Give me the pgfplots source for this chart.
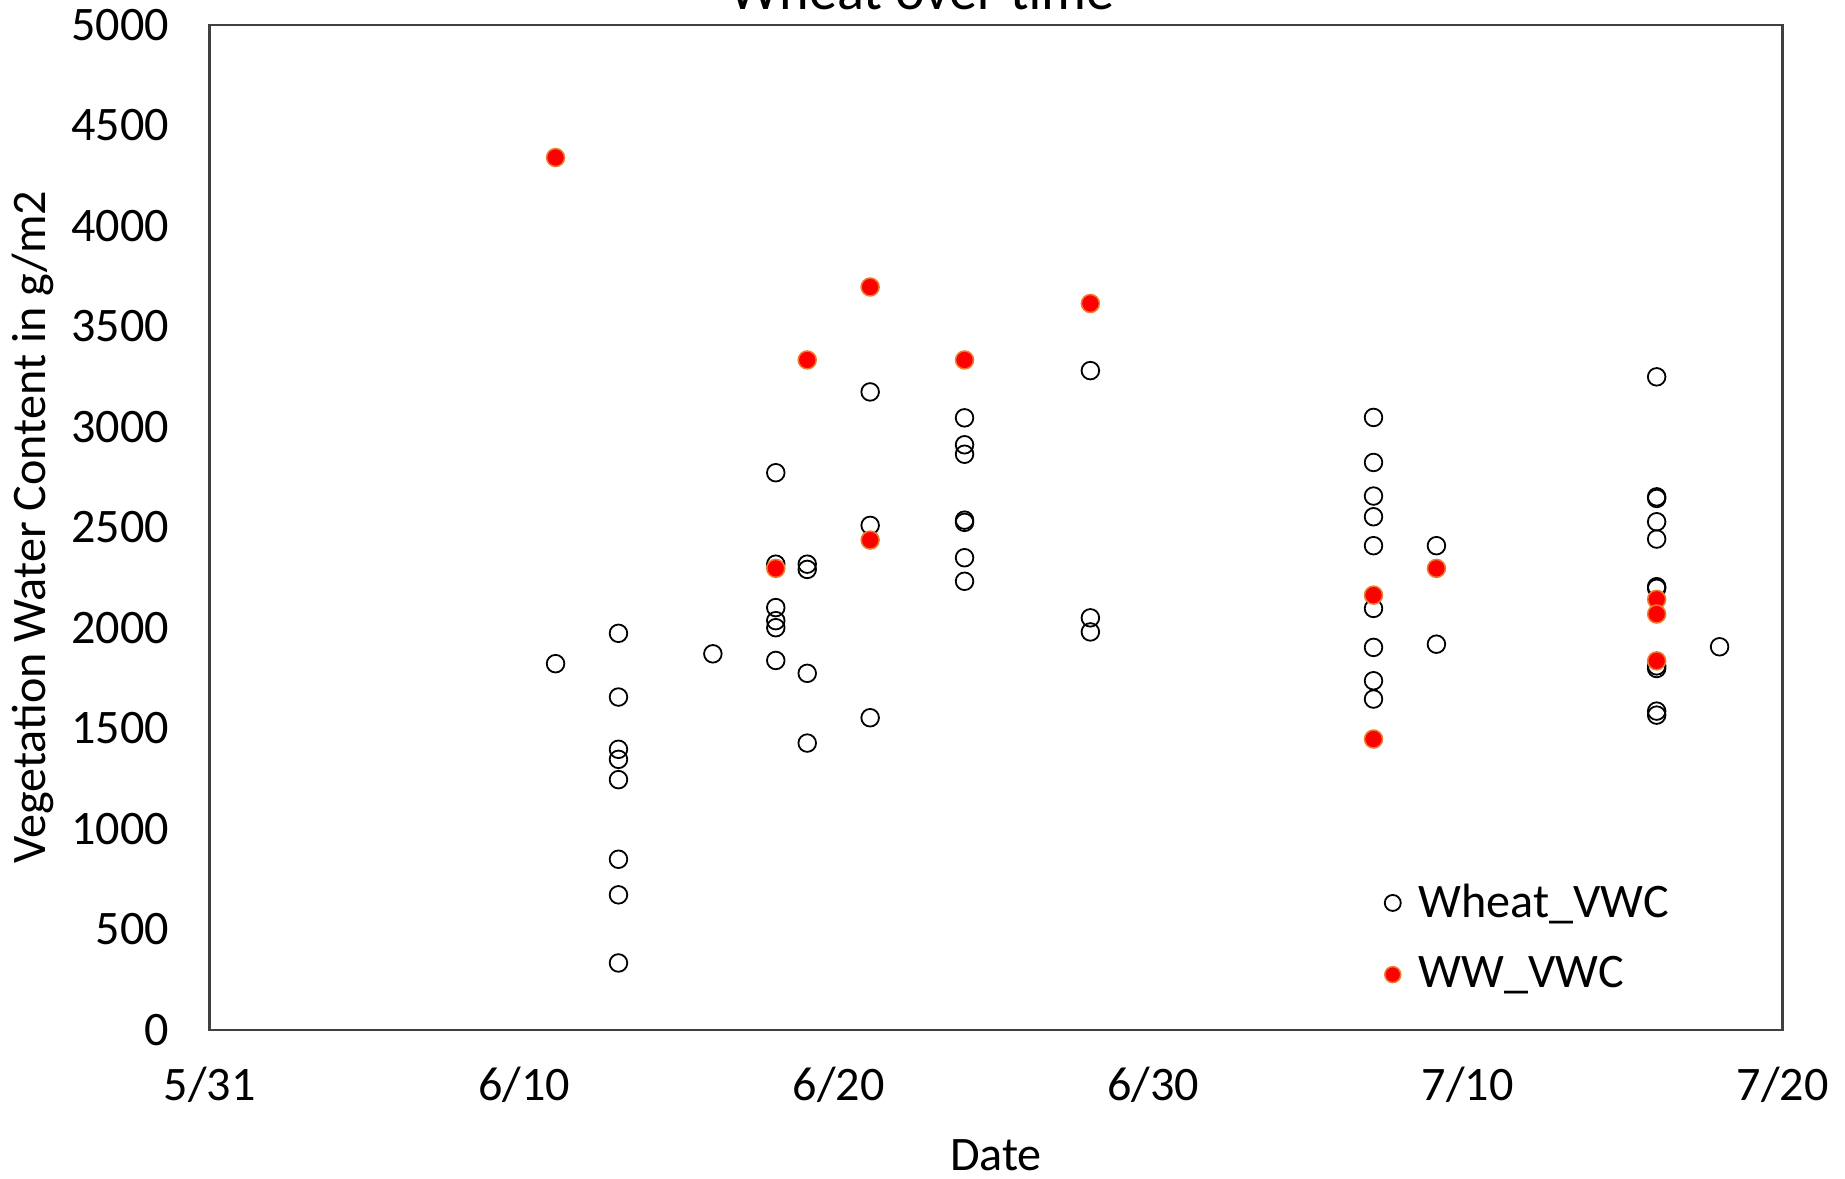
\documentclass[border=0pt]{standalone}
\usepackage{fontspec}
\setmainfont{Carlito}
\usepackage{pgfplots}
\pgfplotsset{compat=1.18}
\usetikzlibrary{calc}
\definecolor{wwred}{RGB}{255,0,0}
\definecolor{wwedge}{RGB}{237,125,49}
\newcommand{\chartfont}{\fontsize{13.7}{16}\selectfont}
\begin{document}
\begin{tikzpicture}
\begin{axis}[
  scale only axis, width=157.3mm, height=100.5mm,
  xmin=0, xmax=50, ymin=0, ymax=5000,
  xtick={0,10,20,30,40,50},
  xticklabels={5/31,6/10,6/20,6/30,7/10,7/20},
  ytick={0,500,...,5000},
  scaled y ticks=false,
  major tick length=0pt,
  /pgf/number format/assume math mode=true,
  /pgf/number format/1000 sep={},
  tick label style={font=\chartfont},
  xticklabel style={anchor=north, yshift=-2.5mm},
  yticklabel style={anchor=east, xshift=-2.8mm},
  axis line style={black!75, line width=0.6pt},
  every axis title shift=0pt,
  title={Wheat over time},
  title style={at={(axis description cs:0.453,1.0154)}, anchor=base, font=\fontsize{16}{19}\selectfont},
  xlabel={Date},
  xlabel style={at={(axis description cs:0.5,-0.1254)}, anchor=center, font=\chartfont},
  ylabel={Vegetation Water Content in g/m2},
  ylabel style={at={(axis description cs:-0.1122,0.5)}, anchor=center, font=\chartfont},
  legend style={draw=none, fill=none, at={(axis description cs:0.740,0.091)}, anchor=west,
    font=\chartfont, row sep=2mm, legend cell align=left},
  legend image code/.code={\draw[#1, mark size=0.8mm] plot coordinates {(0.1cm,0cm)}; \path (0.28cm,0cm);},
]
\addplot[only marks, mark=o, mark size=0.88mm, line width=0.18mm, black] table {
x y
11 1821
13 1972
13 1655
13 1395
13 1345
13 1244
13 848
13 671
13 332
16 1870
18 2771
18 2316
18 2100
18 2035
18 2000
18 1837
19 2316
19 2290
19 1773
19 1426
21 3173
21 2509
21 1552
24 3044
24 2910
24 2863
24 2535
24 2524
24 2348
24 2231
28 3279
28 2049
28 1979
37 3046
37 2822
37 2655
37 2552
37 2408
37 2096
37 1902
37 1736
37 1645
39 2408
39 1918
46 3248
46 2651
46 2643
46 2527
46 2441
46 2204
46 2196
46 1810
46 1797
46 1585
46 1565
48 1905
};
\addlegendentry{Wheat\_VWC}
\addplot[only marks, mark=*, mark size=0.9mm, line width=0.15mm, draw=wwedge, fill=wwred,
  mark options={draw=wwedge, fill=wwred}] table {
x y
11 4339
18 2295
19 3332
21 3695
21 2436
24 3332
28 3613
37 2162
37 1446
39 2295
46 2141
46 2068
46 1835
};
\addlegendentry{WW\_VWC}
\end{axis}
\pgfresetboundingbox
\path[use as bounding box] ($(current axis.south west)+(-20.95mm,-14.83mm)$) rectangle ($(current axis.north east)+(6.25mm,2.47mm)$);
\end{tikzpicture}
\end{document}
